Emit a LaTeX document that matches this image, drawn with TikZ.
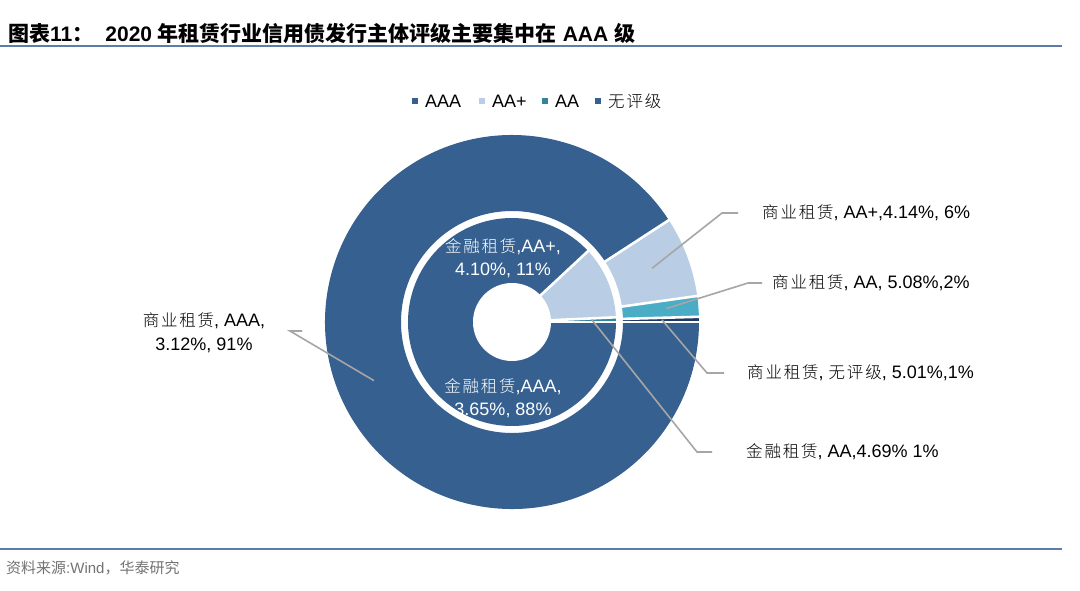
\documentclass[tikz,border=0pt]{standalone}
\usepackage{fontspec}
\setmainfont{Liberation Sans}
\newfontfamily\cjk[LetterSpace=11]{Noto Sans CJK SC Light}
\newfontfamily\cjkt{Noto Sans CJK SC}
\newcommand{\zh}[1]{{\cjk\fontsize{16.5}{19}\selectfont #1}}
\newcommand{\zt}[1]{{\cjkt\bfseries #1}}
\definecolor{caaa}{HTML}{36608F}
\definecolor{caap}{HTML}{B9CDE5}
\definecolor{caa}{HTML}{4BACC6}
\definecolor{caai}{HTML}{31849B}
\definecolor{cno}{HTML}{1F3864}
\definecolor{rule}{HTML}{5B7DA8}
\definecolor{lead}{HTML}{A6A6A6}
\begin{document}
\begin{tikzpicture}[x=1pt,y=-1pt,
  lbl/.style={font=\fontsize{18}{24}\selectfont,inner sep=0pt,anchor=west,text=black},
  inlbl/.style={font=\fontsize{18}{23}\selectfont,inner sep=0pt,text=white,align=center},
  leader/.style={draw=lead,line width=1.6pt},
  sep/.style={draw=white,line width=2.6pt,line join=round}]
\useasboundingbox (0,0) rectangle (1080,590);
\fill[white] (0,0) rectangle (1080,590);
% title
\node[anchor=west,inner sep=0pt,font=\fontsize{21}{24}\selectfont\bfseries] (title) at (8,33) {\zt{图表}11\zt{：}\hspace{12pt}2020 \zt{年租赁行业信用债发行主体评级主要集中在} AAA \zt{级}};
\draw[rule,line width=1.3pt] (0,46) -- (1062,46);
\draw[rule,line width=1.3pt] (0,549) -- (1062,549);
\node[anchor=west,inner sep=0pt,font=\fontsize{15}{17}\selectfont,text=black!55] (src) at (6,568) {{\cjkt 资料来源}:Wind{\cjkt ，华泰研究}};
% legend
\foreach \x/\c/\t [count=\i] in {415/caaa/AAA,482/caap/AA+,545/caai/AA,598/caaa/{\zh{无评级}}}{
  \fill[\c] (\x-2.8,98) rectangle (\x+2.8,103.6);
  \node[lbl,font=\fontsize{18}{20}\selectfont] (leg\i) at (\x+10,101) {\t};
}
% donut
\begin{scope}[shift={(512,322)}]
\newcommand{\ring}[5]{%
  \fill[#1] (#2:#4) -- (#2:#5) arc[start angle=#2,end angle=#3,radius=#5] -- (#3:#4) arc[start angle=#3,end angle=#2,radius=#4] -- cycle;}
\ring{cno}{0}{1.6}{111pt}{187pt}
\ring{caa}{1.6}{8}{111pt}{187pt}
\ring{caap}{8}{33}{111pt}{187pt}
\ring{caaa}{33}{360}{111pt}{187pt}
\foreach \a in {0,1.6,8,33}{\draw[sep] (\a:110pt) -- (\a:188pt);}
\ring{caai}{0}{2.6}{0pt}{104pt}
\ring{caap}{2.6}{43}{0pt}{104pt}
\ring{caaa}{43}{360}{0pt}{104pt}
\foreach \a in {0,2.6,43}{\draw[sep] (0,0) -- (\a:105pt);}
\fill[white] (0,0) circle[radius=39pt];
\coordinate (pAAA) at (203:150pt);
\coordinate (pAAp) at (21:150pt);
\coordinate (pAA) at (5:155pt);
\coordinate (pNo) at (0.8:150pt);
\coordinate (pIAA) at (1.5:80pt);
\end{scope}
\node[inlbl] (iaap) at (503,258) {\zh{金融租赁},AA+,\\4.10\%, 11\%};
\node[inlbl] (iaaa) at (503,398) {\zh{金融租赁},AAA,\\3.65\%, 88\%};
% outer labels
\node[lbl,align=center,anchor=center] (lAAA) at (204,333) {\zh{商业租赁}, AAA,\\3.12\%, 91\%};
\node[lbl] (lAAp) at (762,213) {\zh{商业租赁}, AA+,4.14\%, 6\%};
\node[lbl] (lAA) at (772,283) {\zh{商业租赁}, AA, 5.08\%,2\%};
\node[lbl] (lNo) at (747,373) {\zh{商业租赁}, \zh{无评级}, 5.01\%,1\%};
\node[lbl] (lIAA) at (746,452) {\zh{金融租赁}, AA,4.69\% 1\%};
\coordinate (eAAA) at (302,331);
\coordinate (eAAp) at (738,213);
\coordinate (eAA) at (762,283);
\coordinate (eNo) at (724,373);
\coordinate (eIAA) at (712,452);
\draw[leader] (eAAA) -- ++(-12,0) -- (pAAA);
\draw[leader] (eAAp) -- ++(-16,0) -- (pAAp);
\draw[leader] (eAA) -- ++(-14,0) -- (pAA);
\draw[leader] (eNo) -- ++(-17,0) -- (pNo);
\draw[leader] (eIAA) -- ++(-15,0) -- (pIAA);
\end{tikzpicture}
\end{document}
